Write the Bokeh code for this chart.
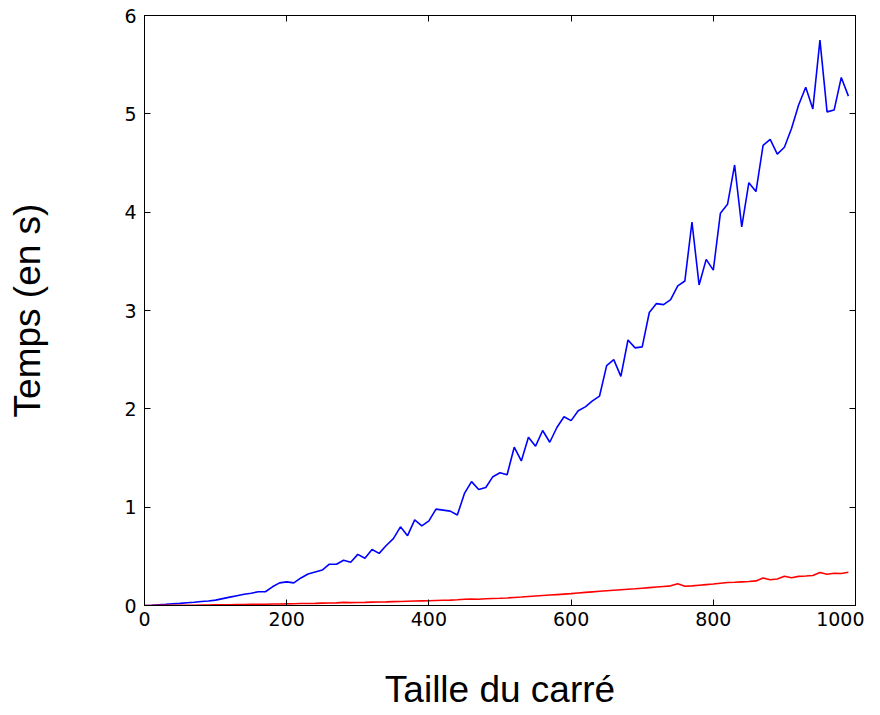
from bokeh.plotting import figure
from bokeh.models import Range1d, LinearAxis, FixedTicker, CustomJSTickFormatter
from bokeh.embed import file_html
from bokeh.resources import INLINE

sizes = list(range(0, 1000, 10))

blue_times = [
    0.000, 0.003, 0.008, 0.012, 0.018, 0.022, 0.028, 0.033, 0.040, 0.045,
    0.055, 0.070, 0.085, 0.100, 0.115, 0.125, 0.140, 0.140, 0.190, 0.230,
    0.240, 0.230, 0.280, 0.320, 0.340, 0.360, 0.420, 0.420, 0.460, 0.440,
    0.520, 0.480, 0.570, 0.530, 0.610, 0.680, 0.800, 0.710, 0.870, 0.810,
    0.860, 0.980, 0.970, 0.960, 0.920, 1.140, 1.260, 1.180, 1.200, 1.310,
    1.350, 1.330, 1.610, 1.470, 1.710, 1.620, 1.780, 1.660, 1.810, 1.920,
    1.880, 1.980, 2.020, 2.080, 2.130, 2.440, 2.500, 2.330, 2.700, 2.620,
    2.630, 2.980, 3.070, 3.060, 3.110, 3.250, 3.300, 3.900, 3.260, 3.520,
    3.410, 3.990, 4.080, 4.480, 3.850, 4.300, 4.210, 4.680, 4.740, 4.590,
    4.660, 4.850, 5.090, 5.270, 5.050, 5.750, 5.020, 5.040, 5.370, 5.180,
]

red_times = [
    0.000, 0.000, 0.001, 0.001, 0.002, 0.002, 0.003, 0.003, 0.004, 0.005,
    0.006, 0.007, 0.008, 0.009, 0.010, 0.011, 0.012, 0.013, 0.015, 0.016,
    0.017, 0.018, 0.020, 0.021, 0.022, 0.024, 0.025, 0.027, 0.032, 0.029,
    0.031, 0.032, 0.034, 0.036, 0.037, 0.039, 0.041, 0.043, 0.045, 0.047,
    0.049, 0.051, 0.053, 0.055, 0.058, 0.064, 0.066, 0.064, 0.068, 0.071,
    0.073, 0.077, 0.082, 0.086, 0.091, 0.096, 0.101, 0.106, 0.111, 0.116,
    0.121, 0.127, 0.133, 0.139, 0.145, 0.150, 0.155, 0.160, 0.165, 0.170,
    0.176, 0.182, 0.188, 0.194, 0.200, 0.222, 0.196, 0.200, 0.206, 0.212,
    0.218, 0.226, 0.234, 0.236, 0.240, 0.244, 0.250, 0.280, 0.262, 0.270,
    0.298, 0.282, 0.296, 0.300, 0.305, 0.335, 0.318, 0.328, 0.326, 0.338,
]

x_ticks = [0, 200, 400, 600, 800, 1000]
y_ticks = [0, 1, 2, 3, 4, 5, 6]

x_label = "Taille du carré"
y_label = "Temps (en s)"

p = figure(width=864, height=712, output_backend="svg", toolbar_location=None,
           x_range=Range1d(0, 1000), y_range=Range1d(0, 6),
           min_border_left=144, min_border_right=9, min_border_top=15,
           min_border_bottom=103, x_axis_label=x_label, y_axis_label=y_label)

p.background_fill_color = "white"
p.border_fill_color = "white"
p.outline_line_color = "black"
p.outline_line_width = 1
p.xgrid.visible = False
p.ygrid.visible = False

p.line(sizes, blue_times, line_color="#0000ff", line_width=1.6)
p.line(sizes, red_times, line_color="#ff0000", line_width=1.6)

for ax, ticks in ((p.xaxis[0], x_ticks), (p.yaxis[0], y_ticks)):
    ax.ticker = FixedTicker(ticks=ticks)
    ax.major_tick_in = 6
    ax.major_tick_out = 0
    ax.minor_tick_line_color = None
    ax.axis_line_color = "black"
    ax.major_tick_line_color = "black"
    ax.major_label_text_font = "DejaVu Sans"
    ax.major_label_text_font_size = "19px"
    ax.major_label_text_color = "black"
    ax.axis_label_text_font = "Liberation Sans"
    ax.axis_label_text_font_size = "37px"
    ax.axis_label_text_font_style = "normal"
    ax.axis_label_text_color = "black"

p.xaxis[0].major_label_standoff = 6
p.yaxis[0].major_label_standoff = 8
p.xaxis[0].axis_label_standoff = 40
p.yaxis[0].axis_label_standoff = 73

blank = CustomJSTickFormatter(code="return ''")
top = LinearAxis(ticker=FixedTicker(ticks=x_ticks), formatter=blank)
right = LinearAxis(ticker=FixedTicker(ticks=y_ticks), formatter=blank)
for ax in (top, right):
    ax.major_tick_in = 6
    ax.major_tick_out = 0
    ax.minor_tick_line_color = None
    ax.major_label_standoff = 0
    ax.major_label_text_font_size = "1px"
p.add_layout(top, "above")
p.add_layout(right, "right")

open("out.html", "w").write(file_html(p, INLINE))
